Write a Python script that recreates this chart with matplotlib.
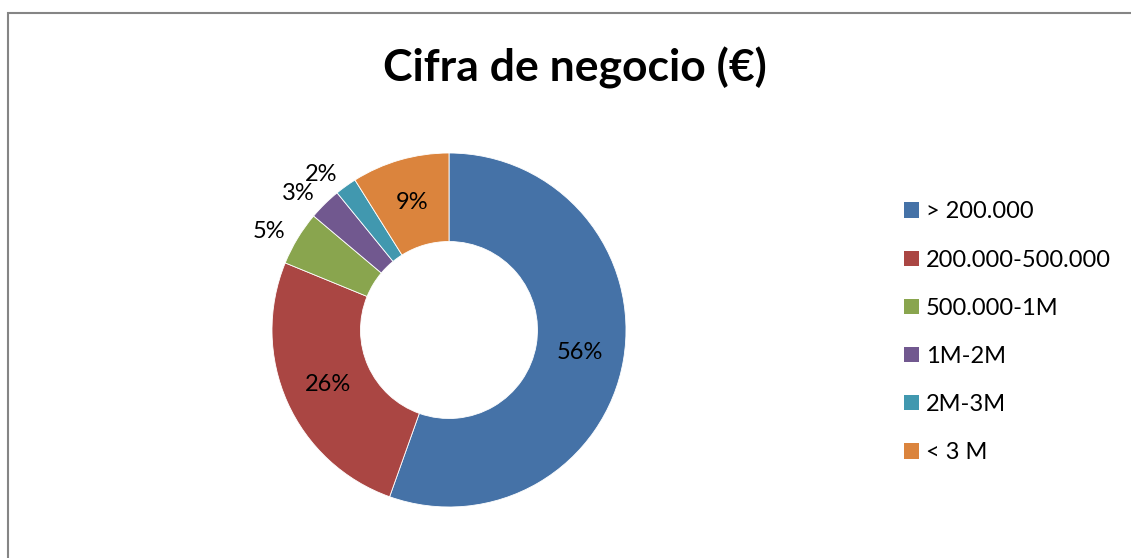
import matplotlib.pyplot as plt
import matplotlib.patches as mpatches
import numpy as np

plt.rcParams['font.family'] = ['Lato', 'DejaVu Sans']

# datos de la gráfica
categorias = ['> 200.000', '200.000-500.000', '500.000-1M', '1M-2M', '2M-3M', '< 3 M']
porcentajes = [56, 26, 5, 3, 2, 9]
colores = ['#4572A7', '#AA4643', '#89A54E', '#71588F', '#4198AF', '#DB843D']
etiquetas_fuera = [False, False, True, True, True, False]

W, H = 1131, 558
fig = plt.figure(figsize=(W / 100, H / 100), dpi=100)

# marco gris del gráfico
marco = mpatches.Rectangle((7.5 / W, -0.05), 1.2, 1 - 12.5 / H + 0.05,
                           transform=fig.transFigure, fill=False,
                           edgecolor='#858585', linewidth=1.5)
fig.patches.append(marco)

fig.text(575 / W, 1 - 68 / H, 'Cifra de negocio (€)', ha='center', va='center',
         fontsize=32, fontweight='bold')

cx, cy, r = 449, 330, 177
ax = fig.add_axes([(cx - r) / W, (H - cy - r) / H, 2 * r / W, 2 * r / H])
wedges, _ = ax.pie(porcentajes, colors=colores, startangle=90, counterclock=False,
                   radius=1, wedgeprops=dict(width=0.5, edgecolor='white', linewidth=0.6))
ax.set_xlim(-1, 1)
ax.set_ylim(-1, 1)
ax.set_aspect('equal')
ax.axis('off')

for w, p, fuera in zip(wedges, porcentajes, etiquetas_fuera):
    ang = np.deg2rad((w.theta1 + w.theta2) / 2)
    if fuera:
        x, y = 1.08 * np.cos(ang), 1.08 * np.sin(ang)
        ax.text(x, y, f'{p}%', ha='right', va='center', fontsize=17, clip_on=False)
    else:
        x, y = 0.75 * np.cos(ang), 0.75 * np.sin(ang)
        ax.text(x, y, f'{p}%', ha='center', va='center', fontsize=17)

handles = [mpatches.Patch(facecolor=c, edgecolor='none', label=l)
           for c, l in zip(colores, categorias)]
fig.legend(handles=handles, loc='upper left', bbox_to_anchor=(895 / W, 1 - 192 / H),
           frameon=False, fontsize=17, handlelength=0.62, handleheight=0.62,
           handletextpad=0.3, labelspacing=1.15, borderaxespad=0)

fig.savefig('out.png', dpi=100)
